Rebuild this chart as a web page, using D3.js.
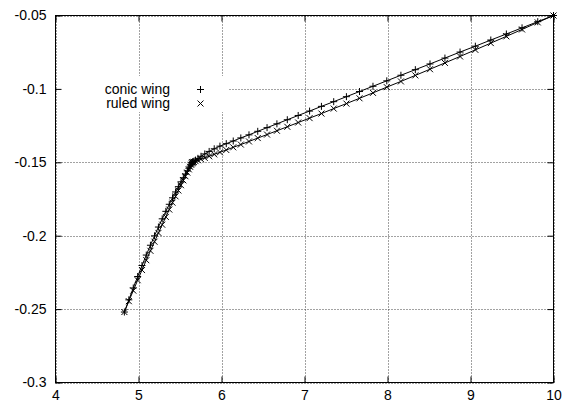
<!DOCTYPE html>
<html>
<head>
<meta charset="utf-8">
<script src="https://cdn.jsdelivr.net/npm/d3@7"></script>
<style>
  html, body { margin: 0; padding: 0; background: #fff; }
  svg { display: block; }
  text { font-family: "Liberation Sans", Arial, Helvetica, sans-serif; font-size: 14px; fill: #000; }
</style>
</head>
<body>
<svg id="chart" width="565" height="405"></svg>
<script>
// Spanwise stations shared by both wing definitions
const spanX = [
  4.83, 4.8836, 4.937, 4.99, 5.0422, 5.0936, 5.1438, 5.1927, 5.24, 5.2856,
  5.3292, 5.3707, 5.4098, 5.4465, 5.4806, 5.5118, 5.5401, 5.5654, 5.5876, 5.6065,
  5.6221, 5.6343, 5.643, 5.6482, 5.65,
  5.6541, 5.6666, 5.6872, 5.7161, 5.7531, 5.7982, 5.8513, 5.9124, 5.9811, 6.0576,
  6.1415, 6.2328, 6.3313, 6.4367, 6.5489, 6.6677, 6.7928, 6.9241, 7.0612, 7.2039,
  7.3519, 7.5049, 7.6627, 7.825, 7.9914, 8.1616, 8.3353, 8.5122, 8.6919, 8.8741,
  9.0585, 9.2446, 9.4322, 9.6209, 9.8103, 10
];

const conicY = [
  -0.252, -0.2437, -0.2356, -0.2278, -0.2203, -0.2132, -0.2065, -0.2001, -0.1941, -0.1885,
  -0.1834, -0.1786, -0.1742, -0.1702, -0.1666, -0.1633, -0.1605, -0.1580, -0.1558, -0.1540,
  -0.1526, -0.1514, -0.1506, -0.1502, -0.15,
  -0.1498, -0.1493, -0.1485, -0.1473, -0.1459, -0.1443, -0.1426, -0.1408, -0.1390, -0.1373,
  -0.1355, -0.1334, -0.1313, -0.1289, -0.1264, -0.1238, -0.1210, -0.1181, -0.1151, -0.1119,
  -0.1087, -0.1053, -0.1018, -0.0982, -0.0945, -0.0907, -0.0869, -0.0830, -0.0790, -0.0749,
  -0.0709, -0.0667, -0.0626, -0.0584, -0.0542, -0.05
];

const ruledY = [
  -0.252, -0.2446, -0.2374, -0.2303, -0.2234, -0.2167, -0.2103, -0.2041, -0.1981, -0.1925,
  -0.1872, -0.1822, -0.1775, -0.1732, -0.1692, -0.1656, -0.1623, -0.1595, -0.1570, -0.1548,
  -0.1531, -0.1517, -0.1508, -0.1502, -0.15,
  -0.1499, -0.1497, -0.1492, -0.1486, -0.1479, -0.1470, -0.1459, -0.1446, -0.1432, -0.1416,
  -0.1398, -0.1379, -0.1358, -0.1335, -0.1311, -0.1285, -0.1258, -0.1229, -0.1199, -0.1168,
  -0.1134, -0.1100, -0.1064, -0.1027, -0.0988, -0.0949, -0.0908, -0.0866, -0.0823, -0.0779,
  -0.0734, -0.0688, -0.0642, -0.0595, -0.0547, -0.05
];

const seriesNames = ["conic wing", "ruled wing"];

const xTicks = [4, 5, 6, 7, 8, 9, 10];
const xTickLabels = ["4", "5", "6", "7", "8", "9", "10"];
const yTicks = [-0.3, -0.25, -0.2, -0.15, -0.1, -0.05];
const yTickLabels = ["-0.3", "-0.25", "-0.2", "-0.15", "-0.1", "-0.05"];

const svg = d3.select("#chart");
const L = 55.5, R = 553.5, T = 15.5, B = 382.5;
const x = d3.scaleLinear().domain([4, 10]).range([L, R]);
const y = d3.scaleLinear().domain([-0.3, -0.05]).range([B, T]);
const tickLen = 6;

// dotted grid
const grid = svg.append("g").attr("stroke", "#444").attr("stroke-width", 1)
  .attr("stroke-dasharray", "1,2").attr("fill", "none");
xTicks.forEach(v => grid.append("line")
  .attr("x1", Math.round(x(v)) + 0.5).attr("x2", Math.round(x(v)) + 0.5)
  .attr("y1", T).attr("y2", B));
yTicks.forEach(v => grid.append("line")
  .attr("y1", Math.round(y(v)) + 0.5).attr("y2", Math.round(y(v)) + 0.5)
  .attr("x1", L).attr("x2", R));

// opaque key area
svg.append("rect").attr("x", 57).attr("y", 76).attr("width", 172).attr("height", 36).attr("fill", "#fff");

// axes: ticks on all four sides, pointing inward
const axB = d3.axisBottom(x).tickValues(xTicks).tickSize(-tickLen).tickFormat((d, i) => xTickLabels[i]).tickPadding(8);
const axT = d3.axisTop(x).tickValues(xTicks).tickSize(-tickLen).tickFormat("");
const axL = d3.axisLeft(y).tickValues(yTicks).tickSize(-tickLen).tickFormat((d, i) => yTickLabels[i]).tickPadding(9);
const axR = d3.axisRight(y).tickValues(yTicks).tickSize(-tickLen).tickFormat("");

function style(g) {
  g.select(".domain").remove();
  g.selectAll(".tick line").attr("stroke", "#000");
  g.selectAll(".tick text").attr("fill", "#000").style("font-size", "14px")
    .style("font-family", '"Liberation Sans", Arial, sans-serif');
}
svg.append("g").attr("transform", `translate(0,${B})`).call(axB).call(style);
svg.append("g").attr("transform", `translate(0,${T})`).call(axT).call(style);
svg.append("g").attr("transform", `translate(${L},0)`).call(axL).call(style);
svg.append("g").attr("transform", `translate(${R},0)`).call(axR).call(style);

svg.append("rect").attr("x", L).attr("y", T).attr("width", R - L).attr("height", B - T)
  .attr("fill", "none").attr("stroke", "#000").attr("stroke-width", 1);

// markers
const plusPath = "M-3.5,0H3.5M0,-3.5V3.5";
const timesPath = "M-3,-3L3,3M-3,3L3,-3";
const markers = [plusPath, timesPath];

const line = d3.line().x(d => x(d[0])).y(d => y(d[1]));
[conicY, ruledY].forEach((ys, k) => {
  const pts = spanX.map((v, i) => [v, ys[i]]);
  svg.append("path").datum(pts).attr("d", line)
    .attr("fill", "none").attr("stroke", "#000").attr("stroke-width", 1);
  svg.append("g").selectAll("path").data(pts).join("path")
    .attr("transform", d => `translate(${x(d[0])},${y(d[1])})`)
    .attr("d", markers[k]).attr("fill", "none").attr("stroke", "#000").attr("stroke-width", 1);
});

// key
const key = svg.append("g");
seriesNames.forEach((name, k) => {
  const yy = 89 + k * 14;
  key.append("text").attr("x", 170).attr("y", yy).attr("dy", "0.35em")
    .attr("text-anchor", "end").text(name);
  key.append("path").attr("transform", `translate(200.5,${yy + 0.5})`)
    .attr("d", markers[k]).attr("fill", "none").attr("stroke", "#000").attr("stroke-width", 1);
});
</script>
</body>
</html>
